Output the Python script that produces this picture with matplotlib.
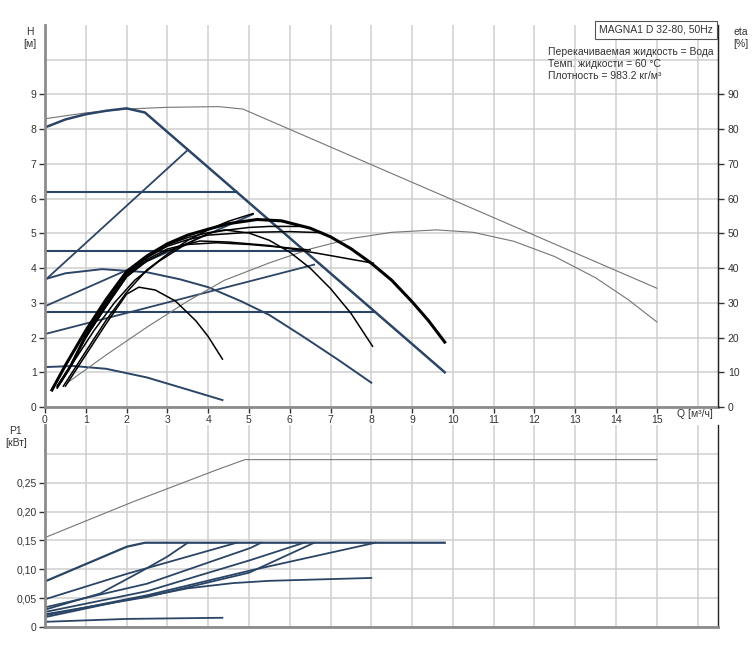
import numpy as np
import matplotlib
matplotlib.use('Agg')
from matplotlib import pyplot as plt

plt.rcParams['font.family'] = ['Liberation Sans', 'DejaVu Sans']

# --- H(Q) curves, head in m ---
max_q = [0, 0.5, 1.0, 1.5, 2.0, 2.45, 9.8]
max_h = [8.05, 8.28, 8.43, 8.53, 8.6, 8.48, 1.0]

grey_max_q = [0, 1, 2, 3, 4.25, 4.85, 15]
grey_max_h = [8.3, 8.47, 8.58, 8.63, 8.65, 8.58, 3.42]

prop_lines_q = [[0, 3.5], [0, 5.1], [0, 6.6]]
prop_lines_h = [[3.65, 7.4], [2.9, 5.55], [2.1, 4.1]]

const_levels = [6.2, 4.5, 2.75]
const_ends = [4.7, 6.35, 8.1]

low1_q = [0, 0.5, 1.4, 2.5, 3.3, 4.0, 4.8, 5.5, 6.3, 7.2, 8.0]
low1_h = [3.68, 3.85, 3.97, 3.88, 3.68, 3.45, 3.05, 2.65, 2.05, 1.35, 0.7]
low2_q = [0, 0.7, 1.5, 2.5, 3.5, 4.35]
low2_h = [1.15, 1.18, 1.1, 0.85, 0.5, 0.2]

# --- efficiency curves, eta in % ---
eta_grey_q = [0.55, 1.5, 2.5, 3.5, 4.4, 5.5, 6.5, 7.5, 8.5, 9.6, 10.5,
              11.5, 12.5, 13.5, 14.3, 15]
eta_grey = [7, 15, 23, 30.5, 36.5, 41.5, 45.5, 48.5, 50.3, 51, 50.3,
            47.7, 43.3, 37.2, 30.9, 24.5]

eta_max_q = [0.17, 0.5, 1.0, 1.5, 2.0, 2.5, 3.0, 3.5, 4.0, 4.5, 5.2, 5.8,
             6.5, 7.0, 7.5, 8.0, 8.5, 9.0, 9.4, 9.8]
eta_max = [4.9, 12, 22, 31, 39, 43.5, 47, 49.5, 51.2, 52.8, 54, 53.6,
           51.5, 49.0, 45.6, 41.4, 36.5, 30.3, 24.9, 18.7]

eta_curves_q = [
    [0.5, 1.0, 1.5, 2.0, 2.3, 2.7, 3.2, 3.7, 4.0, 4.35],
    [0.35, 0.7, 1.2, 1.7, 2.2, 2.8, 3.4, 4.0, 4.4, 5.0, 5.5, 6.0, 6.5, 7.0, 7.5, 8.03],
    [0.3, 0.6, 1.0, 1.5, 2.0, 2.5, 3.0, 3.8, 4.5, 5.5, 6.27, 7.0, 8.05],
    [0.3, 0.6, 1.0, 1.5, 2.0, 2.5, 3.0, 3.5, 4.2, 5.0, 5.8, 6.5],
    [0.3, 0.6, 1.0, 1.5, 2.0, 2.5, 3.0, 3.5, 4.0, 5.0, 6.0, 6.8],
    [0.3, 0.6, 1.0, 1.5, 2.0, 2.5, 3.0, 3.5, 4.0, 4.5, 5.0, 5.5, 6.3],
    [0.45, 1.0, 1.5, 2.0, 2.5, 3.0, 3.5, 4.0, 4.5, 5.1],
]
eta_curves = [
    [6, 15, 24, 32.5, 34.5, 33.7, 30.5, 24.8, 20.3, 13.8],
    [6.5, 13, 22, 30, 36.5, 42, 46.5, 50, 51, 50.1, 48, 44.6, 40, 34.1, 27, 17.5],
    [5.5, 11, 20, 29, 37.5, 42.5, 45.5, 47.8, 47.5, 46.5, 45.1, 43.6, 41.4],
    [5.5, 11, 20, 29, 37.5, 42, 45, 46.8, 47.3, 46.8, 46, 45.2],
    [6, 11.5, 20.5, 29.5, 38, 43, 46.3, 48.2, 49.5, 50.3, 50.5, 50.2],
    [6, 11.5, 21, 30, 38.3, 43.2, 46.7, 48.8, 50.2, 51, 51.7, 52, 52],
    [6, 16, 25, 33, 39.5, 44, 48, 51, 53.5, 55.7],
]

# --- P1(Q) curves, power in kW ---
p_grey_q = [0, 2.16, 4.2, 4.9, 15]
p_grey = [0.155, 0.217, 0.272, 0.29, 0.29]

p_max_q = [0, 1, 2, 2.45, 9.8]
p_max = [0.079, 0.109, 0.139, 0.146, 0.146]

p_curves_q = [
    [0, 1.35, 2.4, 3.0, 3.5],
    [0, 2.0, 4.7],
    [0, 2.5, 5.04, 5.3],
    [0, 2.5, 5.04, 6.35],
    [0, 2.5, 5.0, 6.6],
    [0, 2.5, 5.04, 8.1],
    [0, 1, 2, 3, 3.5, 4.6, 5.5, 6.5, 8.0],
    [0, 2, 4.35],
]
p_curves = [
    [0.03, 0.058, 0.098, 0.122, 0.146],
    [0.048, 0.092, 0.146],
    [0.034, 0.075, 0.137, 0.146],
    [0.026, 0.062, 0.116, 0.146],
    [0.022, 0.052, 0.094, 0.146],
    [0.02, 0.055, 0.098, 0.146],
    [0.017, 0.032, 0.047, 0.06, 0.067, 0.076, 0.08, 0.082, 0.085],
    [0.009, 0.014, 0.016],
]

BLUE = '#2b4566'
GREY = '#757575'
GRID = '#cfcfcf'
SPINE = '#8c8c8c'
FS = 7.5

W, H = 752, 658
fig = plt.figure(figsize=(W / 100, H / 100), dpi=100)
ax = fig.add_axes([45 / W, 1 - 407 / H, 673 / W, 382 / H])
axp = fig.add_axes([45 / W, 1 - 627 / H, 673 / W, 202 / H])


def style(a, ylim, yticks, ygrid_extra):
    a.set_xlim(0, 16.5)
    a.set_ylim(*ylim)
    a.set_xticks(range(0, 16))
    a.set_xticks([16], minor=True)
    a.set_yticks(yticks)
    a.set_yticks(ygrid_extra, minor=True)
    a.grid(True, which='both', color=GRID, lw=1.1)
    a.set_axisbelow(True)
    a.spines['top'].set_visible(False)
    a.spines['left'].set_color(SPINE)
    a.spines['left'].set_linewidth(2)
    a.spines['bottom'].set_color(SPINE)
    a.spines['bottom'].set_linewidth(2)
    a.spines['right'].set_color('#222222')
    a.spines['right'].set_linewidth(1)
    a.tick_params(which='minor', length=0)
    a.tick_params(which='major', labelsize=FS, colors='#333333', length=4,
                  width=1, pad=2)


style(ax, (0, 11), range(0, 10), [10])
style(axp, (0, 0.35), [0, 0.05, 0.10, 0.15, 0.20, 0.25], [0.30])
axp.set_yticklabels(['0', '0,05', '0,10', '0,15', '0,20', '0,25'])
axp.tick_params(axis='x', labelbottom=False, length=0)

# top chart
ax.plot(grey_max_q, grey_max_h, color=GREY, lw=0.8)
ax.plot(max_q, max_h, color=BLUE, lw=1.8)
for q, h in zip(prop_lines_q, prop_lines_h):
    ax.plot(q, h, color=BLUE, lw=1.3)
for lvl, end in zip(const_levels, const_ends):
    ax.plot([0, end], [lvl, lvl], color=BLUE, lw=1.5)
ax.plot(low1_q, low1_h, color=BLUE, lw=1.4)
ax.plot(low2_q, low2_h, color=BLUE, lw=1.4)

ax2 = ax.twinx()
ax2.set_ylim(0, 110)
ax2.set_yticks(range(0, 100, 10))
ax2.tick_params(labelsize=FS, colors='#333333', length=4, width=1, pad=3)
for s in ['top', 'left', 'bottom']:
    ax2.spines[s].set_visible(False)
ax2.spines['right'].set_color('#222222')
ax2.plot(eta_grey_q, eta_grey, color=GREY, lw=0.8)
for q, e in zip(eta_curves_q, eta_curves):
    ax2.plot(q, e, color='black', lw=1.1)
ax2.plot(eta_max_q, eta_max, color='black', lw=2.2)

# bottom chart
axp.plot(p_grey_q, p_grey, color=GREY, lw=0.8)
axp.plot(p_max_q, p_max, color=BLUE, lw=1.6)
for q, p in zip(p_curves_q, p_curves):
    axp.plot(q, p, color=BLUE, lw=1.3)

# labels
fig.text(30 / W, 1 - 38 / H, 'H\n[м]', ha='center', va='center',
         fontsize=FS, color='#333333', linespacing=1.3)
fig.text(741 / W, 1 - 38 / H, 'eta\n[%]', ha='center', va='center',
         fontsize=FS, color='#333333', linespacing=1.3)
fig.text(16 / W, 1 - 437 / H, 'P1\n[кВт]', ha='center', va='center',
         fontsize=FS, color='#333333', linespacing=1.3)
fig.text(677 / W, 1 - 414 / H, 'Q [м³/ч]', ha='left', va='center',
         fontsize=FS, color='#333333')

fig.text(713 / W, 1 - 30 / H, 'MAGNA1 D 32-80, 50Hz', ha='right',
         va='center', fontsize=FS, color='#333333',
         bbox=dict(boxstyle='square,pad=0.35', fc='white', ec='#555555',
                   lw=0.8))
info = ['Перекачиваемая жидкость = Вода',
        'Темп. жидкости = 60 °C',
        'Плотность = 983.2 кг/м³']
for i, line in enumerate(info):
    fig.text(548 / W, 1 - (52 + 12 * i) / H, line, ha='left', va='center',
             fontsize=7.5, color='#333333')

fig.savefig('out.png', dpi=100)
